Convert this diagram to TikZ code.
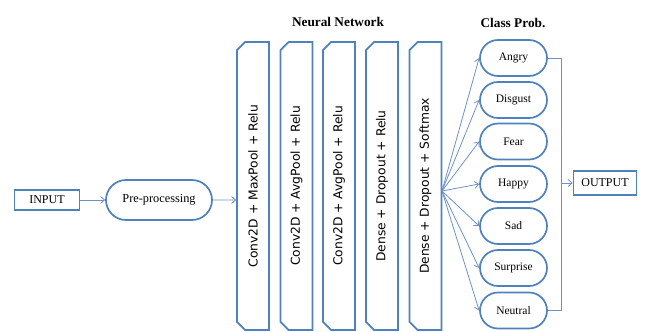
\documentclass[tikz,border=0pt]{standalone}
\usepackage{fontspec}
\setmainfont{Liberation Serif}
\newfontfamily\layerfont{DejaVu Sans}
\usetikzlibrary{arrows.meta,shapes.misc,positioning}
\definecolor{boxblue}{RGB}{79,129,189}
\definecolor{linkblue}{RGB}{110,145,200}

\begin{document}
\begin{tikzpicture}[x=1pt,y=-1pt]
\tikzstyle{plainbox} = [
	shape=rectangle,
	draw=boxblue, %border of the box
	fill=white,
	line width=1.7pt,
	minimum width=65pt,
	minimum height=20pt,
	inner sep=1pt,
	font=\fontsize{12}{14}\selectfont
];
\tikzstyle{pill} = [
	shape=rounded rectangle,
	draw=boxblue,
	fill=white,
	line width=1.7pt,
	minimum width=69pt,
	minimum height=36pt,
	inner sep=1pt,
	font=\fontsize{11.5}{13}\selectfont
];
\tikzstyle{layer} = [
	shape=chamfered rectangle,
	chamfered rectangle corners={north west,south west},
	chamfered rectangle xsep=5pt,
	draw=boxblue,
	fill=white,
	line width=1.7pt,
	minimum width=32pt,
	minimum height=288pt,
	inner sep=0pt,
	font=\layerfont\fontsize{12.3}{14}\selectfont
];
\tikzstyle{link} = [
	-{Straight Barb[length=4pt,width=7pt]},
	line width=0.8pt,
	color=linkblue
];

\useasboundingbox (0,0) rectangle (651,332);

%input side
\node[plainbox](input) at (47,200) {INPUT};
\node[pill, minimum width=108pt, minimum height=40pt, font=\fontsize{12.3}{14}\selectfont](pre) at (159,200) {Pre-processing};

%network layers
\node[font=\bfseries\fontsize{13.3}{15}\selectfont](nn) at (338,22) {Neural Network};
\node[layer](l1) at (253,186) {\rotatebox{90}{Conv2D + MaxPool + Relu}};
\node[layer](l2) at (296.5,186) {\rotatebox{90}{Conv2D + AvgPool + Relu}};
\node[layer](l3) at (339,186) {\rotatebox{90}{Conv2D + AvgPool + Relu}};
\node[layer](l4) at (382,186) {\rotatebox{90}{Dense + Dropout + Relu}};
\node[layer](l5) at (425.5,186) {\rotatebox{90}{Dense + Dropout + Softmax}};

%classes
\node[font=\bfseries\fontsize{13.3}{15}\selectfont](cp) at (513,23) {Class Prob.};
\node[pill](angry) at (513.5,58) {Angry};
\node[pill](disgust) at (513.5,100) {Disgust};
\node[pill](fear) at (513.5,141.5) {Fear};
\node[pill](happy) at (513.5,184) {Happy};
\node[pill](sad) at (513.5,226) {Sad};
\node[pill](surprise) at (513.5,268) {Surprise};
\node[pill](neutral) at (513.5,310.5) {Neutral};

\node[plainbox, minimum width=63pt, minimum height=24pt](output) at (605,183) {OUTPUT};

\coordinate (fan) at (442,191);
\coordinate (bus) at (561,183);

%forward links
\draw[link] (input) -- (pre);
\draw[link] (pre) -- (pre -| l1.west);
\foreach \c in {angry,disgust,fear,happy,sad,surprise,neutral}
	\draw[link] (fan) -- (\c.west);

%collect classes
\draw[line width=0.8pt, color=linkblue]
	(angry.east) -- (angry.east -| bus) -- (neutral.east -| bus) -- (neutral.east);
\draw[link] (bus) -- (output.west);

\end{tikzpicture}
\end{document}
